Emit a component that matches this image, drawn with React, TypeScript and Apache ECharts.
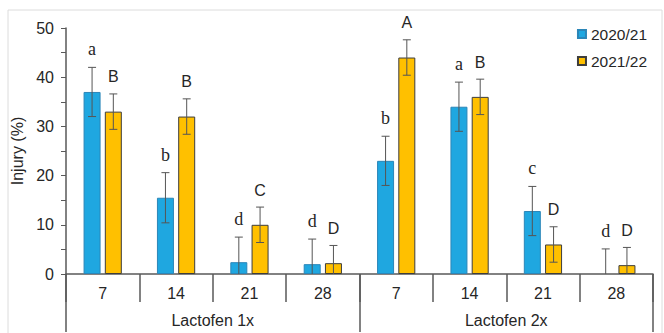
import React, { useEffect, useRef } from "react";
import * as echarts from "echarts";

const categories = ["7", "14", "21", "28", "7", "14", "21", "28"];
const groupLabels = ["Lactofen 1x", "Lactofen 2x"];
const seriesNames = ["2020/21", "2021/22"];
const values2020 = [37, 15.5, 2.4, 2.0, 23, 34, 12.8, 0];
const errors2020 = [5, 5.1, 5.1, 5.1, 5, 5, 5, 5.1];
const letters2020 = ["a", "b", "d", "d", "b", "a", "c", "d"];
const values2021 = [33, 32, 10, 2.2, 44, 36, 6, 1.8];
const errors2021 = [3.6, 3.6, 3.6, 3.6, 3.6, 3.6, 3.6, 3.6];
const letters2021 = ["B", "B", "C", "D", "A", "B", "D", "D"];
const yTicks = { min: 0, max: 50, interval: 10 };

const BAR_W = 17;
const BAR_GAP = 0.25;
const AXIS_COLOR = "#595959";
const SANS = "'Liberation Sans', Arial, sans-serif";
const SERIF = "'Liberation Serif', 'Times New Roman', serif";

function errRenderer(
  vals: number[],
  errs: number[],
  letters: string[],
  sign: number,
  font: string,
  fontSize: number
) {
  return (params: any, api: any) => {
    const i = params.dataIndex;
    const v = vals[i];
    const e = errs[i];
    const off = (sign * BAR_W * (1 + BAR_GAP)) / 2;
    const top = api.coord([i, v + e]);
    const low = api.coord([i, Math.max(0, v - e)]);
    const x = top[0] + off;
    const cap = 4;
    const style = { stroke: "#555", lineWidth: 1 };
    const children: any[] = [
      { type: "line", shape: { x1: x, y1: top[1], x2: x, y2: low[1] }, style },
      { type: "line", shape: { x1: x - cap, y1: top[1], x2: x + cap, y2: top[1] }, style },
    ];
    if (v - e > 0) {
      children.push({
        type: "line",
        shape: { x1: x - cap, y1: low[1], x2: x + cap, y2: low[1] },
        style,
      });
    }
    children.push({
      type: "text",
      style: {
        text: letters[i],
        x: x,
        y: top[1] - 9,
        align: "center",
        verticalAlign: "bottom",
        fontFamily: font,
        fontSize: fontSize,
        fill: "#262626",
      },
    });
    return { type: "group", children };
  };
}

const barData = (vals: number[]) =>
  vals.map((v) => (v === 0 ? { value: v, itemStyle: { borderWidth: 0 } } : v));

export default function App() {
  const ref = useRef<HTMLDivElement>(null);
  useEffect(() => {
    if (!ref.current) return;
    const chart = echarts.init(ref.current, null, { renderer: "svg" });
    chart.setOption({
      animation: false,
      backgroundColor: "#fff",
      textStyle: { fontFamily: SANS },
      graphic: [
        {
          type: "rect",
          shape: { x: 8, y: 10, width: 654, height: 340 },
          style: { fill: "none", stroke: "#dcdcdc", lineWidth: 1 },
          silent: true,
        },
      ],
      grid: { left: 66, right: 11, top: 28, bottom: 59, containLabel: false },
      legend: {
        data: seriesNames,
        orient: "vertical",
        right: 12,
        top: 21,
        icon: "rect",
        itemWidth: 8,
        itemHeight: 8,
        itemGap: 11,
        textStyle: { fontSize: 15.5, color: "#262626", fontFamily: SANS },
      },
      xAxis: [
        {
          type: "category",
          data: categories,
          position: "bottom",
          axisLine: { show: true, lineStyle: { color: AXIS_COLOR, width: 1.5 } },
          axisTick: {
            show: true,
            alignWithLabel: false,
            interval: 0,
            length: 28,
            lineStyle: { color: AXIS_COLOR, width: 1.5 },
          },
          axisLabel: { interval: 0, margin: 11, fontSize: 16, color: "#262626", fontFamily: SANS },
        },
        {
          type: "category",
          data: groupLabels,
          position: "bottom",
          offset: 0,
          axisLine: { show: false },
          axisTick: {
            show: true,
            alignWithLabel: false,
            interval: 0,
            length: 58,
            lineStyle: { color: AXIS_COLOR, width: 1.5 },
          },
          axisLabel: { interval: 0, margin: 38, fontSize: 16, color: "#262626", fontFamily: SANS },
        },
      ],
      yAxis: {
        type: "value",
        min: yTicks.min,
        max: yTicks.max,
        interval: yTicks.interval,
        name: "Injury (%)",
        nameLocation: "middle",
        nameGap: 39,
        nameTextStyle: { fontSize: 16, color: "#262626", fontFamily: SANS },
        axisLine: { show: true, lineStyle: { color: AXIS_COLOR, width: 1.5 } },
        axisTick: { show: true, inside: false, length: 5, lineStyle: { color: AXIS_COLOR, width: 1 } },
        minorTick: { show: true, splitNumber: 2, length: 5, lineStyle: { color: AXIS_COLOR, width: 1 } },
        axisLabel: { margin: 12, fontSize: 16, color: "#262626", fontFamily: SANS },
        splitLine: { show: false },
      },
      series: [
        {
          name: seriesNames[0],
          type: "bar",
          data: barData(values2020),
          barWidth: BAR_W,
          barGap: `${BAR_GAP * 100}%`,
          itemStyle: { color: "#1fa7e0", borderColor: "#2b86b8", borderWidth: 1 },
        },
        {
          name: seriesNames[1],
          type: "bar",
          data: barData(values2021),
          barWidth: BAR_W,
          barGap: `${BAR_GAP * 100}%`,
          itemStyle: { color: "#ffc000", borderColor: "#3d3d3d", borderWidth: 1 },
        },
        {
          type: "custom",
          z: 5,
          clip: false,
          data: values2020.map((v, i) => [i, v]),
          encode: { x: 0, y: 1 },
          renderItem: errRenderer(values2020, errors2020, letters2020, -1, SERIF, 18),
        },
        {
          type: "custom",
          z: 5,
          clip: false,
          data: values2021.map((v, i) => [i, v]),
          encode: { x: 0, y: 1 },
          renderItem: errRenderer(values2021, errors2021, letters2021, 1, SANS, 16),
        },
      ],
    });
    return () => chart.dispose();
  }, []);
  return (
    <div
      ref={ref}
      style={{ position: "fixed", left: 0, top: 0, width: 664, height: 333, background: "#fff" }}
    />
  );
}
